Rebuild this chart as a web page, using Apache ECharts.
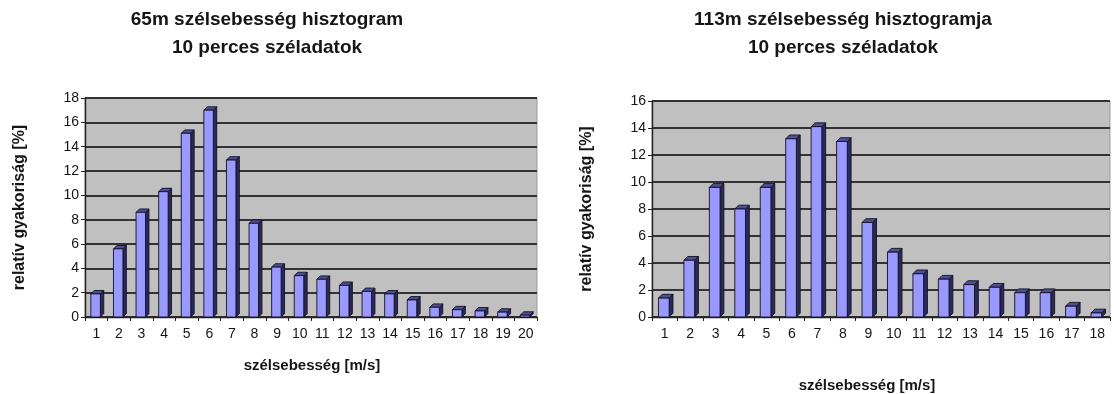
<!DOCTYPE html>
<html>
<head>
<meta charset="utf-8">
<title>Szélsebesség hisztogramok</title>
<script src="https://cdn.jsdelivr.net/npm/echarts@6/dist/echarts.min.js"></script>
<style>
  html, body { margin: 0; padding: 0; background: #ffffff; }
  #chart { width: 1114px; height: 394px; }
</style>
</head>
<body>
<div id="chart"></div>
<script>
// Wind speed classes [m/s] for each measurement height
var speeds65 = ['1','2','3','4','5','6','7','8','9','10','11','12','13','14','15','16','17','18','19','20'];
var speeds113 = ['1','2','3','4','5','6','7','8','9','10','11','12','13','14','15','16','17','18'];

// Relative frequency [%] of the 10-minute wind records
var freq65 = [1.9, 5.6, 8.6, 10.3, 15.1, 17.0, 12.9, 7.7, 4.1, 3.4, 3.1, 2.6, 2.1, 1.9, 1.4, 0.8, 0.6, 0.5, 0.4, 0.15];
var freq113 = [1.4, 4.2, 9.6, 8.0, 9.6, 13.2, 14.1, 13.0, 7.0, 4.8, 3.2, 2.8, 2.4, 2.2, 1.8, 1.8, 0.8, 0.3];

// Y axis scales
var yMax65 = 18, yMax113 = 16, yStep = 2;

var FONT = 'Liberation Sans, Arial, sans-serif';
var TEXT = '#151515';

// Column with a lit front face, a dark side face and a top face
function column3d(params, api) {
  var idx = api.value(0);
  var val = api.value(1);
  var top = api.coord([idx, val]);
  var base = api.coord([idx, 0]);
  var bw = api.size([1, 0])[0];
  var w = bw * 0.42;
  var d = bw * 0.15;
  var x0 = top[0] - (w + d) / 2 + 1;
  var x1 = x0 + w;
  var yt = top[1];
  var yb = base[1];
  var edge = { stroke: '#111122', lineWidth: 0.9 };
  return {
    type: 'group',
    children: [
      {
        type: 'polygon',
        shape: { points: [[x1, yt], [x1 + d, yt - d], [x1 + d, yb - d], [x1, yb]] },
        style: Object.assign({ fill: '#2a2a58' }, edge)
      },
      {
        type: 'polygon',
        shape: { points: [[x0, yt], [x0 + d, yt - d], [x1 + d, yt - d], [x1, yt]] },
        style: Object.assign({ fill: '#4e4e96' }, edge)
      },
      {
        type: 'rect',
        shape: { x: x0, y: yt, width: w, height: Math.max(yb - yt, 0) },
        style: Object.assign({ fill: '#9999ff' }, edge)
      }
    ]
  };
}

function toPoints(values) {
  return values.map(function (v, i) { return [i, v]; });
}

function xAxisFor(gridIndex, cats) {
  return {
    type: 'category',
    gridIndex: gridIndex,
    data: cats,
    boundaryGap: true,
    axisLine: { show: true, lineStyle: { color: '#222', width: 1.4 } },
    axisTick: { show: true, length: 4, lineStyle: { color: '#222' } },
    axisLabel: { color: TEXT, fontFamily: FONT, fontSize: 14, margin: 10, interval: 0 },
    splitLine: { show: false }
  };
}

function yAxisFor(gridIndex, max) {
  return {
    type: 'value',
    gridIndex: gridIndex,
    min: 0,
    max: max,
    interval: yStep,
    name: 'relatív gyakoriság [%]',
    nameLocation: 'middle',
    nameRotate: 90,
    nameGap: 57,
    nameTextStyle: { color: TEXT, fontFamily: FONT, fontSize: 16, fontWeight: 'bold' },
    axisLine: { show: true, lineStyle: { color: '#222', width: 1.4 } },
    axisTick: { show: true, length: 4, lineStyle: { color: '#222' } },
    axisLabel: { color: TEXT, fontFamily: FONT, fontSize: 14, margin: 6 },
    splitLine: { show: true, lineStyle: { color: '#333333', width: 1.8 } }
  };
}

var chart = echarts.init(document.getElementById('chart'), null, { renderer: 'canvas' });

chart.setOption({
  backgroundColor: '#ffffff',
  animation: false,
  title: [
    {
      text: '65m szélsebesség hisztogram\n10 perces széladatok',
      left: 262, top: 1, textAlign: 'center',
      textStyle: { color: TEXT, fontFamily: FONT, fontSize: 19, fontWeight: 'bold', lineHeight: 28 }
    },
    {
      text: '113m szélsebesség hisztogramja\n10 perces széladatok',
      left: 838, top: 1, textAlign: 'center',
      textStyle: { color: TEXT, fontFamily: FONT, fontSize: 19, fontWeight: 'bold', lineHeight: 28 }
    },
    {
      text: 'szélsebesség [m/s]',
      left: 307, top: 353, textAlign: 'center',
      textStyle: { color: TEXT, fontFamily: FONT, fontSize: 15, fontWeight: 'bold' }
    },
    {
      text: 'szélsebesség [m/s]',
      left: 862, top: 373, textAlign: 'center',
      textStyle: { color: TEXT, fontFamily: FONT, fontSize: 15, fontWeight: 'bold' }
    }
  ],
  grid: [
    { left: 85, top: 98, width: 452, height: 219, backgroundColor: '#c0c0c0', show: true, borderColor: '#9a9a9a', borderWidth: 1 },
    { left: 652, top: 101, width: 458, height: 216, backgroundColor: '#c0c0c0', show: true, borderColor: '#9a9a9a', borderWidth: 1 }
  ],
  xAxis: [xAxisFor(0, speeds65), xAxisFor(1, speeds113)],
  yAxis: [yAxisFor(0, yMax65), yAxisFor(1, yMax113)],
  series: [
    {
      name: '65m',
      type: 'custom',
      xAxisIndex: 0,
      yAxisIndex: 0,
      renderItem: column3d,
      encode: { x: 0, y: 1 },
      data: toPoints(freq65),
      clip: false
    },
    {
      name: '113m',
      type: 'custom',
      xAxisIndex: 1,
      yAxisIndex: 1,
      renderItem: column3d,
      encode: { x: 0, y: 1 },
      data: toPoints(freq113),
      clip: false
    }
  ]
});
</script>
</body>
</html>
